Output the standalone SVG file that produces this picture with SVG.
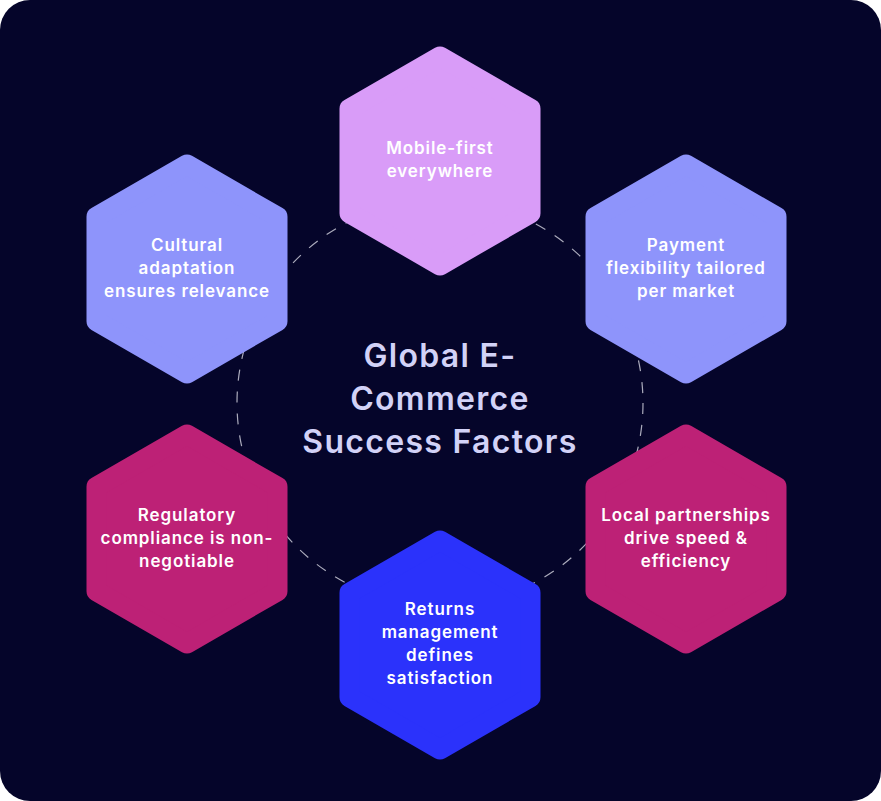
<svg xmlns="http://www.w3.org/2000/svg" width="881" height="801" viewBox="0 0 881 801">
  <style>
    .hex-label { font-family: Inter, "Open Sans", "Liberation Sans", sans-serif; font-size: 17px; letter-spacing: 0.9px; font-weight: 600; fill: #ffffff; text-anchor: middle; }
    .title { font-family: Inter, "Open Sans", "Liberation Sans", sans-serif; font-size: 32px; letter-spacing: 1.3px; font-weight: 600; fill: #d2d2f7; text-anchor: middle; }
    .hex { stroke-width: 20; stroke-linejoin: round; }
    .c-top { fill: #d99cf8; stroke: #d99cf8; }
    .c-peri { fill: #8e94fb; stroke: #8e94fb; }
    .c-mag { fill: #bd2176; stroke: #bd2176; }
    .c-blue { fill: #2b32fb; stroke: #2b32fb; }
  </style>
  <defs>
    <polygon id="hexShape" points="0,-104.5 90.5,-52.25 90.5,52.25 0,104.5 -90.5,52.25 -90.5,-52.25"/>
  </defs>
  <rect x="0" y="0" width="881" height="801" rx="30" ry="30" fill="#05052a"/>

  <g id="connectors">
    <circle cx="440" cy="403" r="203" fill="none" stroke="#c9c9d6" stroke-width="1.2" stroke-dasharray="11 11" opacity="0.85"/>
  </g>

  <g id="title">
    <text class="title" x="440" y="367">Global E-</text>
    <text class="title" x="440" y="410">Commerce</text>
    <text class="title" x="440" y="453">Success Factors</text>
  </g>

  <g id="node-mobile">
    <use href="#hexShape" class="hex c-top" x="440" y="161"/>
    <text class="hex-label" x="440" y="154">Mobile-first</text>
    <text class="hex-label" x="440" y="177">everywhere</text>
  </g>

  <g id="node-payment">
    <use href="#hexShape" class="hex c-peri" x="686" y="269"/>
    <text class="hex-label" x="686" y="251">Payment</text>
    <text class="hex-label" x="686" y="274">flexibility tailored</text>
    <text class="hex-label" x="686" y="297">per market</text>
  </g>

  <g id="node-cultural">
    <use href="#hexShape" class="hex c-peri" x="187" y="269"/>
    <text class="hex-label" x="187" y="251">Cultural</text>
    <text class="hex-label" x="187" y="274">adaptation</text>
    <text class="hex-label" x="187" y="297">ensures relevance</text>
  </g>

  <g id="node-regulatory">
    <use href="#hexShape" class="hex c-mag" x="187" y="539"/>
    <text class="hex-label" x="187" y="521">Regulatory</text>
    <text class="hex-label" x="187" y="544">compliance is non-</text>
    <text class="hex-label" x="187" y="567">negotiable</text>
  </g>

  <g id="node-local">
    <use href="#hexShape" class="hex c-mag" x="686" y="539"/>
    <text class="hex-label" x="686" y="521">Local partnerships</text>
    <text class="hex-label" x="686" y="544">drive speed &amp;</text>
    <text class="hex-label" x="686" y="567">efficiency</text>
  </g>

  <g id="node-returns">
    <use href="#hexShape" class="hex c-blue" x="440" y="645"/>
    <text class="hex-label" x="440" y="615">Returns</text>
    <text class="hex-label" x="440" y="638">management</text>
    <text class="hex-label" x="440" y="661">defines</text>
    <text class="hex-label" x="440" y="684">satisfaction</text>
  </g>
</svg>
